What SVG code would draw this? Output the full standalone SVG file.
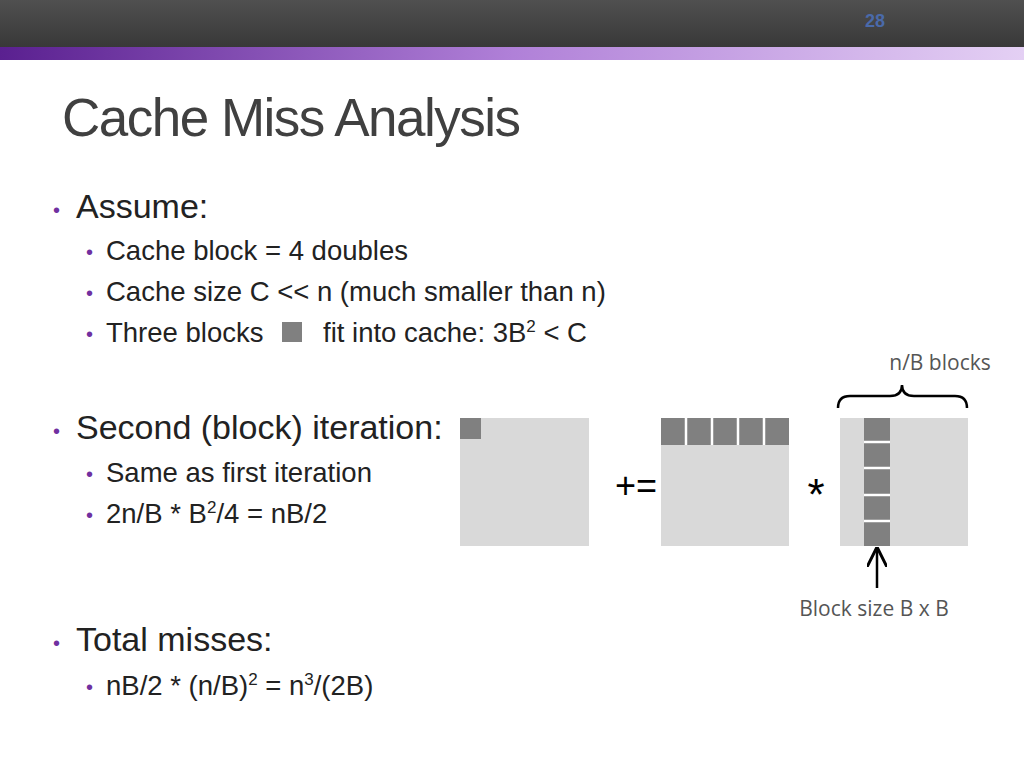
<svg xmlns="http://www.w3.org/2000/svg" width="1024" height="768" viewBox="0 0 1024 768">
<defs>
<linearGradient id="top" x1="0" y1="0" x2="0" y2="1"><stop offset="0" stop-color="#505050"/><stop offset="1" stop-color="#383838"/></linearGradient>
<linearGradient id="bar" x1="0" y1="0" x2="1" y2="0"><stop offset="0" stop-color="#5a2090"/><stop offset="0.5" stop-color="#b080d8"/><stop offset="1" stop-color="#e4d0f4"/></linearGradient>
<marker id="ah" viewBox="0 0 10 10" refX="9" refY="5" markerWidth="8" markerHeight="8" orient="auto"><path d="M0,0 L10,5 L0,10" fill="none" stroke="#000" stroke-width="1.5"/></marker>
</defs>
<style>
text{font-family:"Liberation Sans",Arial,sans-serif;fill:#222}
.b{fill:#7030a0;font-size:20px}
.l1{font-size:34px}
.l2{font-size:27.5px}
.lt{fill:#d9d9d9}
.dk{fill:#808080}
.c{font-family:"Open Sans","DejaVu Sans",sans-serif;font-size:21px;fill:#555}
</style>
<rect width="1024" height="47" fill="url(#top)"/>
<rect y="47" width="1024" height="13" fill="url(#bar)"/>
<text x="875" y="27" font-size="18" font-weight="bold" text-anchor="middle" style="fill:#4a6aaa">28</text>
<text x="62" y="136" font-size="53" style="fill:#404040" letter-spacing="-1.5">Cache Miss Analysis</text>
<g id="text">
<text x="53" y="217" class="b">•</text><text x="76" y="218" class="l1">Assume:</text>
<text x="86" y="259" class="b" font-size="16">•</text><text x="106" y="260" class="l2">Cache block = 4 doubles</text>
<text x="86" y="300" class="b">•</text><text x="106" y="301" class="l2">Cache size C &lt;&lt; n (much smaller than n)</text>
<text x="86" y="341" class="b">•</text><text x="106" y="342" class="l2">Three blocks</text>
<rect x="282" y="322" width="20" height="20" class="dk"/>
<text x="323" y="342" class="l2">fit into cache: 3B<tspan font-size="17" dy="-10">2</tspan><tspan dy="10"> &lt; C</tspan></text>
<text x="53" y="438" class="b">•</text><text x="76" y="439" class="l1">Second (block) iteration:</text>
<text x="86" y="481" class="b">•</text><text x="106" y="482" class="l2">Same as first iteration</text>
<text x="86" y="522" class="b">•</text><text x="106" y="523" class="l2">2n/B * B<tspan font-size="17" dy="-10">2</tspan><tspan dy="10">/4 = nB/2</tspan></text>
<text x="53" y="650" class="b">•</text><text x="76" y="651" class="l1">Total misses:</text>
<text x="86" y="694" class="b">•</text><text x="106" y="695" class="l2">nB/2 * (n/B)<tspan font-size="17" dy="-10">2</tspan><tspan dy="10"> = n</tspan><tspan font-size="17" dy="-10">3</tspan><tspan dy="10">/(2B)</tspan></text>
</g>
<g id="matC"><rect x="460" y="418" width="129" height="128" class="lt"/><rect x="460" y="418" width="21" height="21" class="dk"/></g>
<text x="636" y="498" font-size="36" text-anchor="middle" style="fill:#000">+=</text>
<g id="matA"><rect x="661" y="418" width="128" height="128" class="lt"/>
<rect x="661" y="418" width="128" height="27" class="dk"/>
<g stroke="#fff" stroke-width="2.5"><line x1="686" y1="418" x2="686" y2="445"/><line x1="712" y1="418" x2="712" y2="445"/><line x1="738" y1="418" x2="738" y2="445"/><line x1="764" y1="418" x2="764" y2="445"/></g></g>
<text x="816" y="510" font-size="44" text-anchor="middle" style="fill:#000">*</text>
<g id="matB"><rect x="840" y="418" width="128" height="128" class="lt"/>
<rect x="864" y="418" width="26" height="128" class="dk"/>
<g stroke="#fff" stroke-width="2.5"><line x1="864" y1="442" x2="890" y2="442"/><line x1="864" y1="468" x2="890" y2="468"/><line x1="864" y1="495" x2="890" y2="495"/><line x1="864" y1="521" x2="890" y2="521"/></g></g>
<g id="connectors">
<path d="M838,408 Q838,396 850,396 L890,396 Q902,396 902,385 Q902,396 914,396 L955,396 Q967,396 967,408" fill="none" stroke="#000" stroke-width="2.5"/>
<line x1="877" y1="588" x2="877" y2="549" stroke="#000" stroke-width="2.5" marker-end="url(#ah)"/>
</g>
<text x="940" y="370" class="c" text-anchor="middle">n/B blocks</text>
<text x="874" y="616" class="c" text-anchor="middle">Block size B x B</text>
</svg>
